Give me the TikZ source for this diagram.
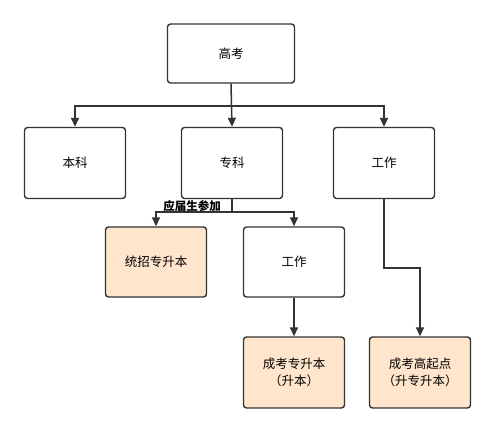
\documentclass[tikz,border=0pt]{standalone}
\usepackage{fontspec}
\setmainfont{Noto Sans CJK SC}
\usetikzlibrary{arrows.meta}

\tikzset{
    box/.style={draw=black!80, line width=1.4pt, rounded corners=3pt, fill=white,
        minimum width=101pt, minimum height=71pt, align=center,
        font=\fontsize{12.5}{17}\selectfont},
    hbox/.style={box, fill=orange!20!white},
    link/.style={draw=black!80, line width=1.5pt},
    arr/.style={link, -{Triangle[length=9pt,width=8pt]}}
}

\begin{document}
\begin{tikzpicture}[x=1pt,y=-1pt]
        \useasboundingbox (0,0) rectangle (496,433);
        
        % boxes
        \node[box, minimum width=127pt, minimum height=59pt] (gk) at (231,53.5) {高考};
        \node[box] (bk) at (75,163) {本科};
        \node[box] (zk) at (232,163) {专科};
        \node[box] (gz1) at (384,163) {工作};
        \node[hbox, minimum height=70pt] (tz) at (156,262) {统招专升本};
        \node[box, minimum height=70pt] (gz2) at (294,262) {工作};
        \node[hbox] (ck1) at (294,372.5) {成考专升本\\（升本）};
        \node[hbox] (ck2) at (420,372.5) {成考高起点\\（升专升本）};
        
        % joints
        \coordinate (j1) at (231,106);
        \coordinate (j2) at (232,212);
        \coordinate (b1) at (384,268);
        
        % lines
        \draw[arr] (gk.south) -- (zk.north);
        \draw[arr] (j1) -| (bk.north);
        \draw[arr] (j1) -| (gz1.north);
        \draw[link] (zk.south) -- (j2);
        \draw[arr] (j2) -| (tz.north);
        \draw[arr] (j2) -| (gz2.north);
        \draw[arr] (gz2.south) -- (ck1.north);
        \draw[arr] (gz1.south) -- (b1) -| (ck2.north);
        
        % label
        \node[font=\fontsize{11.5}{12}\selectfont\bfseries, inner sep=0pt] (lbl) at (192,206) {应届生参加};
    \end{tikzpicture}
\end{document}
